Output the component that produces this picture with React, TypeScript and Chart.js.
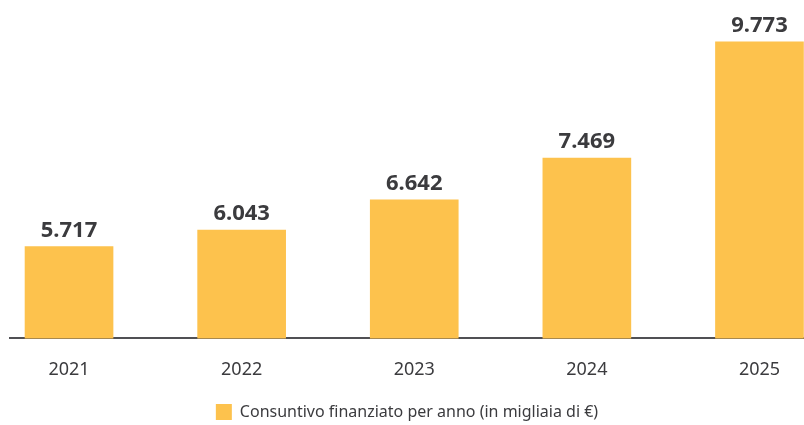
import React, { useEffect, useRef } from "react";
import { Chart, registerables } from "chart.js";

Chart.register(...registerables);

const years = ["2021", "2022", "2023", "2024", "2025"];
const values = [5717, 6043, 6642, 7469, 9773];
const valueLabels = ["5.717", "6.043", "6.642", "7.469", "9.773"];
const seriesLabel = "Consuntivo finanziato per anno (in migliaia di €)";

const BAR_COLOR = "#FDC24D";
const TEXT_COLOR = "#3b3b3e";
const FONT = "'Noto Sans', 'DejaVu Sans', sans-serif";

const valueLabelPlugin = {
  id: "valueLabels",
  afterDatasetsDraw(chart: any) {
    const ctx = chart.ctx;
    const meta = chart.getDatasetMeta(0);
    ctx.save();
    ctx.font = `bold 22px ${FONT}`;
    ctx.fillStyle = TEXT_COLOR;
    ctx.textAlign = "center";
    ctx.textBaseline = "bottom";
    meta.data.forEach((bar: any, i: number) => {
      ctx.fillText(valueLabels[i], bar.x, bar.y - 5);
    });
    ctx.restore();
  },
};

export default function App() {
  const ref = useRef<HTMLCanvasElement>(null);
  useEffect(() => {
    if (!ref.current) return;
    const chart = new Chart(ref.current, {
      type: "bar",
      data: {
        datasets: [
          {
            label: seriesLabel,
            data: values.map((v, i) => ({ x: i, y: v })),
            backgroundColor: BAR_COLOR,
            borderWidth: 0,
            barThickness: 88,
          },
        ],
      },
      options: {
        animation: false,
        responsive: false,
        maintainAspectRatio: false,
        layout: { padding: { left: 10, right: 0, top: 0, bottom: -5 } },
        plugins: {
          tooltip: { enabled: false },
          legend: {
            position: "bottom",
            labels: {
              boxWidth: 16,
              boxHeight: 16,
              color: TEXT_COLOR,
              font: { family: FONT, size: 16 },
              padding: 2,
            },
          },
        },
        scales: {
          x: {
            type: "linear",
            offset: false,
            min: -0.342,
            max: 4.258,
            grid: { display: false, drawTicks: false },
            border: { display: true, color: "#505054", width: 2 },
            afterBuildTicks: (scale: any) => {
              scale.ticks = years.map((_, i) => ({ value: i }));
            },
            ticks: {
              color: TEXT_COLOR,
              font: { family: FONT, size: 18 },
              padding: 21,
              maxRotation: 0,
              autoSkip: false,
              callback: (v: any) => years[Math.round(Number(v))] ?? "",
            },
          },
          y: {
            display: false,
            min: 3900,
            max: 10600,
          },
        },
      },
      plugins: [valueLabelPlugin],
    });
    return () => chart.destroy();
  }, []);
  return (
    <div style={{ position: "absolute", left: 0, top: 0, width: 804, height: 425, background: "#fff" }}>
      <canvas ref={ref} width={804} height={425} style={{ display: "block", width: 804, height: 425 }} />
    </div>
  );
}
